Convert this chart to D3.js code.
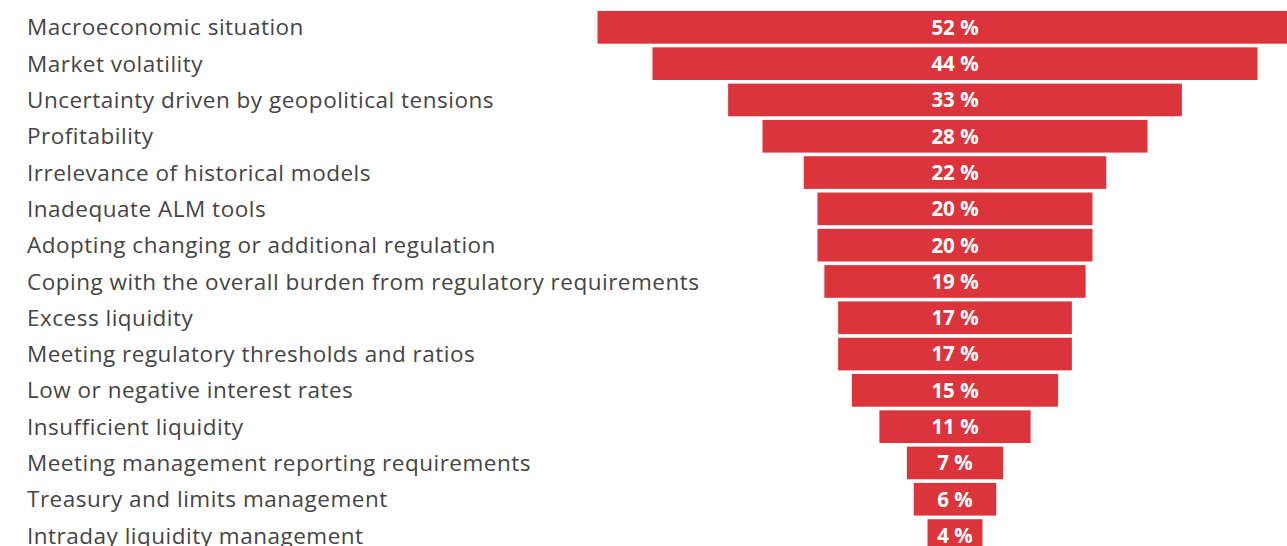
<!DOCTYPE html>
<html>
<head>
<meta charset="utf-8">
<script src="https://cdn.jsdelivr.net/npm/d3@7"></script>
<style>
  html, body { margin: 0; padding: 0; background: #fff; overflow: hidden; }
  svg { display: block; }
</style>
</head>
<body>
<svg id="chart" width="1287" height="546"></svg>
<script>
// Challenges named by respondents, share of answers (%)
const categories = [
  "Macroeconomic situation",
  "Market volatility",
  "Uncertainty driven by geopolitical tensions",
  "Profitability",
  "Irrelevance of historical models",
  "Inadequate ALM tools",
  "Adopting changing or additional regulation",
  "Coping with the overall burden from regulatory requirements",
  "Excess liquidity",
  "Meeting regulatory thresholds and ratios",
  "Low or negative interest rates",
  "Insufficient liquidity",
  "Meeting management reporting requirements",
  "Treasury and limits management",
  "Intraday liquidity management"
];
const values = [52, 44, 33, 28, 22, 20, 20, 19, 17, 17, 15, 11, 7, 6, 4];

const width = 1287, height = 546;
const svg = d3.select("#chart");

const rowStep = 36.3, firstTop = 11;
const y = d3.scaleBand()
  .domain(categories)
  .range([firstTop - 1.8, firstTop - 1.8 + rowStep * categories.length])
  .paddingInner(0.1)
  .paddingOuter(0.05);

// Bars are centred on a common axis, funnel style
const centerX = 955;
const w = d3.scaleLinear().domain([0, 52]).range([0, 715]);

const rows = svg.selectAll("g.row")
  .data(categories.map((c, i) => ({ label: c, value: values[i] })))
  .join("g")
  .attr("class", "row")
  .attr("transform", d => `translate(0,${y(d.label)})`);

rows.append("rect")
  .attr("x", d => centerX - w(d.value) / 2)
  .attr("y", 0)
  .attr("width", d => w(d.value))
  .attr("height", y.bandwidth())
  .attr("fill", "#DB343B");

rows.append("text")
  .attr("x", 27)
  .attr("y", y.bandwidth() / 2)
  .attr("dy", "0.36em")
  .attr("font-family", "'Open Sans', sans-serif")
  .attr("font-size", 22.5)
  .attr("letter-spacing", 0.5)
  .attr("fill", "#454545")
  .text(d => d.label);

rows.append("text")
  .attr("x", centerX)
  .attr("y", y.bandwidth() / 2)
  .attr("dy", "0.36em")
  .attr("text-anchor", "middle")
  .attr("font-family", "'Open Sans', sans-serif")
  .attr("font-weight", "bold")
  .attr("font-size", 20.5)
  .attr("fill", "#fff")
  .text(d => `${d.value} %`);
</script>
</body>
</html>
